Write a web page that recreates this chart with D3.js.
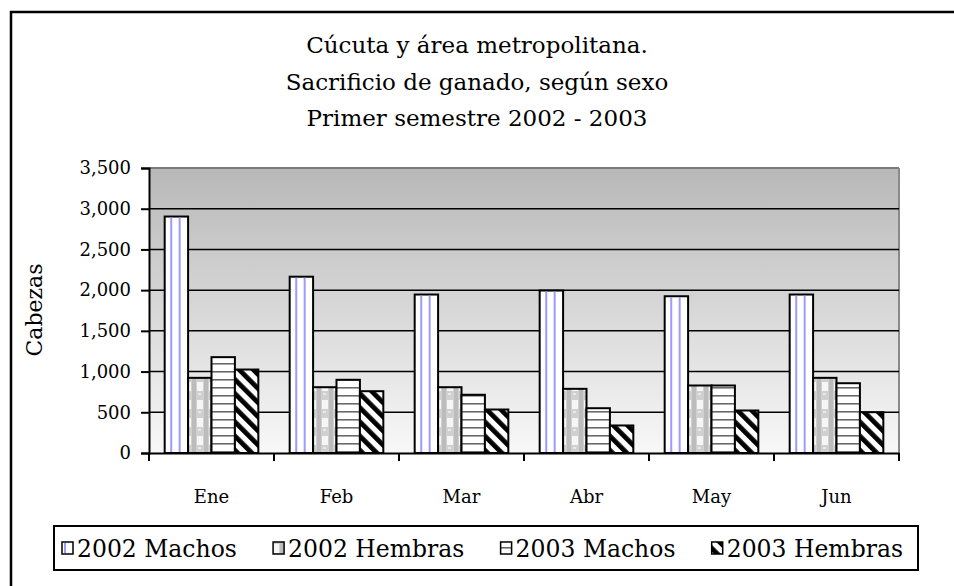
<!DOCTYPE html>
<html>
<head>
<meta charset="utf-8">
<script src="https://cdn.jsdelivr.net/npm/d3@7"></script>
<style>
    body { margin: 0; background: #fff; overflow: hidden; }
    svg { display: block; }
</style>
</head>
<body>
<div id="content"></div>
<script>
// ******* DATA *******
const months = ["Ene", "Feb", "Mar", "Abr", "May", "Jun"];
const seriesNames = ["2002 Machos", "2002 Hembras", "2003 Machos", "2003 Hembras"];
const machos2002 = [2904, 2165, 1946, 1995, 1925, 1946];
const hembras2002 = [923, 808, 808, 788, 829, 923];
const machos2003 = [1177, 899, 715, 550, 829, 857];
const hembras2003 = [1025, 759, 534, 338, 522, 501];
const yTicks = [0, 500, 1000, 1500, 2000, 2500, 3000, 3500];
const titleLines = ["Cúcuta y área metropolitana.", "Sacrificio de ganado, según sexo", "Primer semestre 2002 - 2003"];

const seriesValues = [machos2002, hembras2002, machos2003, hembras2003];
const patternIds = ["p-m02", "p-h02", "p-m03", "p-h03"];

// ******* LAYOUT *******
const width = 954, height = 586;
const plot = { left: 149, right: 899, top: 168, bottom: 453 };
const serif = "'DejaVu Serif', serif";

const svg = d3.select("#content").append("svg")
    .attr("width", width)
    .attr("height", height);

//******* PATTERNS / GRADIENT *******
const defs = svg.append("defs");

const grad = defs.append("linearGradient")
    .attr("id", "bg")
    .attr("x1", 0).attr("y1", 0).attr("x2", 0).attr("y2", 1);
grad.append("stop").attr("offset", "0%").attr("stop-color", "#b8b8b8");
grad.append("stop").attr("offset", "100%").attr("stop-color", "#f8f8f8");

// 2002 machos: white, blue lines drawn per bar (see below)
defs.append("pattern").attr("id", "p-m02")
    .attr("patternUnits", "userSpaceOnUse").attr("width", 4).attr("height", 4)
    .append("rect").attr("width", 4).attr("height", 4).attr("fill", "#fff");

// 2002 hembras: grey dotted check
const ph = defs.append("pattern").attr("id", "p-h02")
    .attr("patternUnits", "userSpaceOnUse").attr("width", 12).attr("height", 18);
ph.append("rect").attr("width", 12).attr("height", 18).attr("fill", "#d0d0d0");
ph.append("rect").attr("x", 0).attr("y", 4).attr("width", 6).attr("height", 9).attr("fill", "#f6f6f6");
ph.append("rect").attr("x", 7).attr("y", 0).attr("width", 4).attr("height", 18).attr("fill", "#bcbcbc");
ph.append("rect").attr("x", 1).attr("y", 15).attr("width", 3).attr("height", 2).attr("fill", "#e8e8e8");

// 2003 machos: horizontal lines
const pm = defs.append("pattern").attr("id", "p-m03")
    .attr("patternUnits", "userSpaceOnUse").attr("width", 8).attr("height", 8);
pm.append("rect").attr("width", 8).attr("height", 8).attr("fill", "#fff");
pm.append("rect").attr("y", 3).attr("width", 8).attr("height", 1.6).attr("fill", "#6a6a6a");

// 2003 hembras: thick diagonal stripes "\"
const pd = defs.append("pattern").attr("id", "p-h03")
    .attr("patternUnits", "userSpaceOnUse").attr("width", 10).attr("height", 10)
    .attr("patternTransform", "rotate(-45)");
pd.append("rect").attr("width", 10).attr("height", 10).attr("fill", "#fff");
pd.append("rect").attr("width", 4.8).attr("height", 10).attr("fill", "#000");

//******* SCALES *******
const y = d3.scaleLinear().domain([0, 3500]).range([plot.bottom, plot.top]);
const x0 = d3.scaleBand().domain(months).range([plot.left, plot.right]).padding(0);
const x1 = d3.scaleBand().domain(d3.range(4)).range([0, x0.bandwidth()])
    .paddingInner(0).paddingOuter(0.67);

// outer frame: only top and left edges are inside the picture
svg.append("path")
    .attr("d", `M11,${height + 5} V12 H${width + 5}`)
    .attr("fill", "none").attr("stroke", "#000").attr("stroke-width", 2.5);

// title
svg.append("g").selectAll("text")
    .data(titleLines).join("text")
    .attr("x", 477)
    .attr("y", (d, i) => 53 + i * 36.5)
    .attr("text-anchor", "middle")
    .style("font-family", serif).style("font-size", "23px")
    .text(d => d);

// plot background
svg.append("rect")
    .attr("x", plot.left).attr("y", plot.top)
    .attr("width", plot.right - plot.left).attr("height", plot.bottom - plot.top)
    .attr("fill", "url(#bg)");

// top and right wall edges
svg.append("line")
    .attr("x1", plot.left).attr("x2", plot.right)
    .attr("y1", plot.top).attr("y2", plot.top)
    .attr("stroke", "#7a7a7a").attr("stroke-width", 2);
svg.append("line")
    .attr("x1", plot.right).attr("x2", plot.right)
    .attr("y1", plot.top).attr("y2", plot.bottom)
    .attr("stroke", "#8a8a8a").attr("stroke-width", 2);

// gridlines
svg.append("g").selectAll("line")
    .data(yTicks.filter(d => d > 0 && d < 3500)).join("line")
    .attr("x1", plot.left).attr("x2", plot.right)
    .attr("y1", d => y(d)).attr("y2", d => y(d))
    .attr("stroke", "#000").attr("stroke-width", 1.5);

//******* BARS *******
const groups = svg.append("g").selectAll("g")
    .data(months).join("g")
    .attr("transform", d => `translate(${x0(d)},0)`);

groups.selectAll("rect")
    .data((m, i) => seriesValues.map((vals, s) => ({ s, v: vals[i] })))
    .join("rect")
    .attr("x", d => x1(d.s))
    .attr("y", d => y(d.v))
    .attr("width", x1.bandwidth())
    .attr("height", d => y(0) - y(d.v))
    .attr("fill", d => `url(#${patternIds[d.s]})`)
    .attr("stroke", "#000").attr("stroke-width", 2);

// blue stripes inside the 2002 machos bars
groups.selectAll("line.blue")
    .data((m, i) => [0.28, 0.64].map(f => ({ f, v: machos2002[i] })))
    .join("line").attr("class", "blue")
    .attr("x1", d => x1(0) + x1.bandwidth() * d.f)
    .attr("x2", d => x1(0) + x1.bandwidth() * d.f)
    .attr("y1", d => y(d.v) + 1).attr("y2", y(0) - 1)
    .attr("stroke", "#9a9aff").attr("stroke-width", 2);

//******* AXES *******
const yAxis = svg.append("g")
    .attr("transform", `translate(${plot.left},0)`)
    .call(d3.axisLeft(y).tickValues(yTicks).tickSize(8).tickPadding(10)
        .tickFormat(d3.format(",")));
yAxis.select(".domain").attr("stroke-width", 2);
yAxis.selectAll(".tick line").attr("stroke-width", 2);
yAxis.selectAll("text").style("font-family", serif).style("font-size", "18px");

const xAxis = svg.append("g")
    .attr("transform", `translate(0,${plot.bottom})`)
    .call(d3.axisBottom(x0).tickSize(0).tickPadding(37).tickSizeOuter(0));
xAxis.select(".domain").attr("stroke-width", 2);
xAxis.selectAll("text").style("font-family", serif).style("font-size", "18px");

// category boundary ticks
xAxis.append("g").selectAll("line")
    .data(months.concat(["end"])).join("line")
    .attr("x1", (d, i) => plot.left + i * x0.step())
    .attr("x2", (d, i) => plot.left + i * x0.step())
    .attr("y1", 0).attr("y2", 8)
    .attr("stroke", "#000").attr("stroke-width", 2);

// y label
svg.append("text")
    .attr("transform", "translate(42,310) rotate(-90)")
    .attr("text-anchor", "middle")
    .style("font-family", serif).style("font-size", "22px")
    .text("Cabezas");

//******* LEGEND *******
const legend = svg.append("g");
legend.append("rect")
    .attr("x", 54).attr("y", 526).attr("width", 864).attr("height", 44)
    .attr("fill", "#fff").attr("stroke", "#000").attr("stroke-width", 2);

const items = legend.selectAll("g.item")
    .data(seriesNames).join("g").attr("class", "item");
items.append("rect")
    .attr("y", 542)
    .attr("width", 11).attr("height", 12)
    .attr("fill", (d, i) => `url(#${patternIds[i]})`)
    .attr("stroke", "#000").attr("stroke-width", 1.5);
items.filter((d, i) => i === 0).append("line")
    .attr("x1", 3).attr("x2", 3).attr("y1", 543).attr("y2", 553)
    .attr("stroke", "#9a9aff").attr("stroke-width", 2);
const labels = items.append("text")
    .attr("x", 15).attr("y", 557)
    .style("font-family", serif).style("font-size", "23.5px")
    .text(d => d);

// flow the items so they fill the legend box from 62 to 903
const textW = labels.nodes().map(n => n.getComputedTextLength());
const totalW = d3.sum(textW) + 4 * 15;
const gap = (903 - 62 - totalW) / 3;
let cursor = 62;
items.each(function (d, i) {
    d3.select(this).attr("transform", `translate(${cursor},0)`);
    cursor += 15 + textW[i] + gap;
});
</script>
</body>
</html>
